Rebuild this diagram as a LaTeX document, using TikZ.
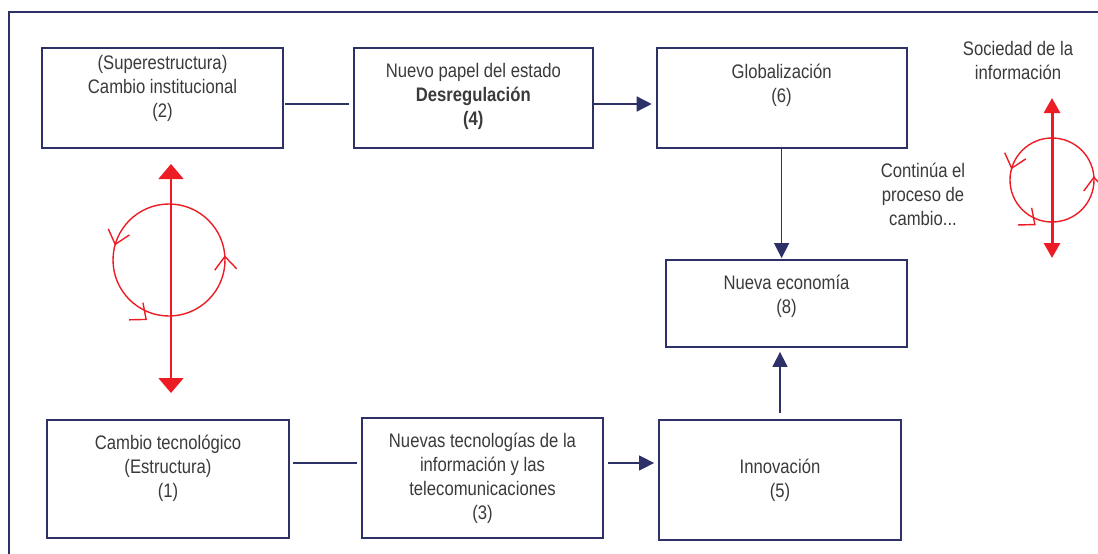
\documentclass[tikz,border=0pt]{standalone}
\usepackage{fontspec}
\setmainfont{Liberation Sans}[FakeStretch=0.85]
\usepackage{xcolor}
\definecolor{mainBlue}{HTML}{2E3168}
\definecolor{cycleRed}{HTML}{ED1C24}
\definecolor{textGray}{HTML}{3A3A3A}
\usepackage{tikz}
\usetikzlibrary{positioning,calc,arrows.meta,decorations.markings}
\newcommand{\cycleBarb}{\draw[cycleRed, line width=1.4pt, line join=miter] (13pt,11pt) -- (0pt,0pt) -- (13pt,-11pt);}
\tikzset{%
  stageBox/.style={%
    rectangle,
    draw=mainBlue,
    line width=1.8pt,
    text=textGray,
    font=\fontsize{19.6}{24}\selectfont,
    minimum width=241pt,
    minimum height=100pt,
    inner sep=0pt,
    align=center
  },
  noteText/.style={%
    text=textGray,
    font=\fontsize{19.6}{24}\selectfont,
    inner sep=0pt,
    align=center
  },
  linkLine/.style={%
    line width=1.5pt,
    color=mainBlue,
    shorten <=1pt,
    shorten >=4pt
  },
  arrowLine/.style={%
    -{Triangle[length=15pt,width=15pt]},
    line width=1.5pt,
    color=mainBlue,
    shorten >=4pt
  },
  cycleArrow/.style={%
    {Triangle[length=15pt,width=25pt]}-{Triangle[length=15pt,width=25pt]},
    line width=1.5pt,
    color=cycleRed
  },
  cycleCircle/.style={%
    draw=cycleRed,
    line width=1.4pt,
    postaction={decorate},
    decoration={markings,
      mark=at position 0.545 with {\cycleBarb},
      mark=at position 0.30 with {\cycleBarb},
      mark=at position 0.99 with {\cycleBarb}}
  }
}

\begin{document}
\begin{tikzpicture}[x=1pt,y=-1pt]
  \useasboundingbox (0,0) rectangle (1098,554);
  % frame
  \draw[line width=1.5pt, mainBlue] (9,554) -- (9,12) -- (1098,12);

  % top row
  \node[stageBox, text depth=23pt] (cambioInst) at (162.5,98) {(Superestructura)\\Cambio institucional\\(2)};
  \node[stageBox, minimum width=239pt, text depth=8pt, right=69pt of cambioInst] (desreg) {Nuevo papel del estado\\\textbf{Desregulación}\\\textbf{(4)}};
  \node[stageBox, minimum width=250pt, text depth=29pt, right=62pt of desreg] (globaliz) {Globalización\\(6)};
  \node[stageBox, minimum height=87pt, text depth=18pt] (nuevaEcon) at (786.5,303.5) {Nueva economía\\(8)};

  % bottom row
  \node[stageBox, minimum width=242pt, minimum height=118pt, text depth=25pt] (cambioTec) at (168,479) {Cambio tecnológico\\(Estructura)\\(1)};
  \node[stageBox, minimum height=120pt, text depth=3pt] (nuevasTec) at (482.5,478) {Nuevas tecnologías de la\\información y las\\telecomunicaciones\\(3)};
  \node[stageBox, minimum width=242pt, minimum height=120pt, text depth=4pt] (innov) at (780,480) {Innovación\\(5)};

  \draw[linkLine] ([yshift=-6pt]cambioInst.east) -- ([yshift=-6pt]cambioInst.east -| desreg.west);
  \draw[arrowLine] ([yshift=-6pt]desreg.east) -- ([yshift=-6pt]desreg.east -| globaliz.west);
  \draw[arrowLine, shorten >=1pt] (globaliz.south) -- (globaliz.south |- nuevaEcon.north);
  \draw[linkLine, shorten <=3pt] ([yshift=16pt]cambioTec.east) -- ([yshift=16pt]cambioTec.east -| nuevasTec.west);
  \draw[arrowLine, shorten <=4pt] ([yshift=15pt]nuevasTec.east) -- ([yshift=15pt]nuevasTec.east -| innov.west);
  \draw[arrowLine, shorten <=6pt] (innov.north) -- (innov.north |- nuevaEcon.south);

  % cycles
  \coordinate (cicloIzq) at (169,260);
  \coordinate (cicloIzqTop) at (171,164);
  \coordinate (cicloIzqBot) at (171,393);
  \draw[cycleArrow] (cicloIzqTop) -- (cicloIzqBot);
  \draw[cycleCircle] (cicloIzq) circle[radius=56];

  \coordinate (cicloDer) at (1052,180);
  \coordinate (cicloDerTop) at (1052,98);
  \coordinate (cicloDerBot) at (1052,258);
  \draw[cycleArrow, line width=3pt, {Triangle[length=15pt,width=16pt]}-{Triangle[length=15pt,width=16pt]}] (cicloDerTop) -- (cicloDerBot);
  \draw[cycleCircle] (cicloDer) circle[radius=42];

  \node[noteText] (sociedad) at (1018,60) {Sociedad de la\\información};
  \node[noteText] (continua) at (923,194) {Continúa el\\proceso de\\cambio...};
\end{tikzpicture}
\end{document}
